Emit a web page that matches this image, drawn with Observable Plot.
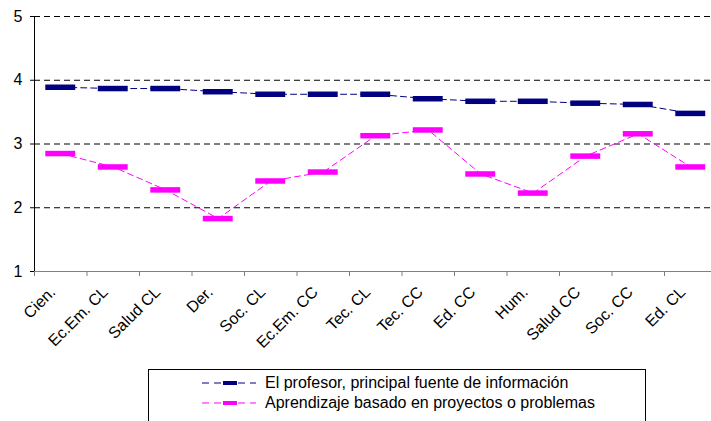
<!DOCTYPE html>
<html>
<head>
<meta charset="utf-8">
<script src="https://cdn.jsdelivr.net/npm/d3@7"></script>
<script src="https://cdn.jsdelivr.net/npm/@observablehq/plot@0.6"></script>
<style>
  html, body { margin: 0; padding: 0; background: #fff; overflow: hidden; }
  body { width: 711px; height: 421px; position: relative; font-family: "Liberation Sans", Arial, sans-serif; }
  #legend { position: absolute; left: 148px; top: 369px; width: 498px; height: 60px; border: 1px solid #000; background: #fff; box-sizing: border-box; }
  .row { position: absolute; left: 0; height: 20px; display: flex; align-items: center; font-size: 16px; color: #000; white-space: nowrap; }
  .row svg { position: absolute; left: 52px; top: 4px; }
  .row span { position: absolute; left: 116px; }
</style>
</head>
<body>
<div id="chart"></div>
<div id="legend"></div>
<script>
const categories = ["Cien.", "Ec.Em. CL", "Salud CL", "Der.", "Soc. CL", "Ec.Em. CC", "Tec. CL", "Tec. CC", "Ed. CC", "Hum.", "Salud CC", "Soc. CC", "Ed. CL"];
const profesor = [3.89, 3.87, 3.87, 3.82, 3.78, 3.78, 3.78, 3.71, 3.67, 3.67, 3.64, 3.62, 3.48];
const proyectos = [2.85, 2.64, 2.28, 1.83, 2.42, 2.56, 3.13, 3.22, 2.53, 2.23, 2.81, 3.16, 2.64];
const yTicks = [1, 2, 3, 4, 5];
const gridValues = [2, 3, 4, 5];
const seriesNames = ["El profesor, principal fuente de información", "Aprendizaje basado en proyectos o problemas"];
const seriesColors = ["#000080", "#FF00FF"];

const idx = categories.map((_, i) => i);
const boundaries = d3.range(categories.length + 1).map(i => i - 0.5);
const rows = [];
categories.forEach((c, i) => {
  rows.push({i, cat: c, v: profesor[i], s: seriesNames[0]});
  rows.push({i, cat: c, v: proyectos[i], s: seriesNames[1]});
});

const chart = Plot.plot({
  width: 711,
  height: 366,
  marginLeft: 34,
  marginTop: 16,
  marginBottom: 95,
  marginRight: 0,
  style: {fontFamily: "'Liberation Sans', Arial, sans-serif", fontSize: "16px", background: "#fff", overflow: "visible"},
  x: {type: "linear", domain: [-0.5, categories.length - 0.5], range: [34, 716.5], axis: null},
  y: {domain: [1, 5], axis: null},
  color: {domain: seriesNames, range: seriesColors},
  marks: [
    Plot.ruleY(gridValues, {stroke: "#000", strokeDasharray: "6,4", strokeWidth: 1}),
    Plot.ruleY([1], {stroke: "#808080", strokeWidth: 1}),
    Plot.ruleX([-0.5], {stroke: "#000", strokeWidth: 1}),
    Plot.axisY(yTicks, {tickSize: 4, tickPadding: 8, fontSize: 16, stroke: "#000", color: "#000", tickFormat: d3.format("d"), label: null}),
    Plot.axisX(boundaries, {tickSize: 5, tickFormat: () => "", stroke: "#808080", label: null}),
    Plot.axisX(idx, {tickSize: 0, tickPadding: 18, dx: -8, tickRotate: -45, fontSize: 16, tickFormat: i => categories[i], color: "#000", label: null}),
    Plot.line(rows, {x: "i", y: "v", z: "s", stroke: "s", strokeWidth: 1, strokeDasharray: "6,4"}),
    Plot.ruleY(rows, {y: "v", x1: d => d.i - 0.285, x2: d => d.i + 0.285, stroke: "s", strokeWidth: 5.5})
  ]
});
document.getElementById("chart").appendChild(chart);

const legend = document.getElementById("legend");
seriesNames.forEach((name, k) => {
  const row = document.createElement("div");
  row.className = "row";
  row.style.top = (3 + k * 20) + "px";
  row.style.width = "100%";
  const c = seriesColors[k];
  row.innerHTML = `<svg width="56" height="12"><line x1="1" y1="6" x2="55" y2="6" stroke="${c}" stroke-width="1" stroke-dasharray="7,5"/><rect x="22" y="4" width="14" height="4" fill="${c}"/></svg><span>${name}</span>`;
  legend.appendChild(row);
});
</script>
</body>
</html>
